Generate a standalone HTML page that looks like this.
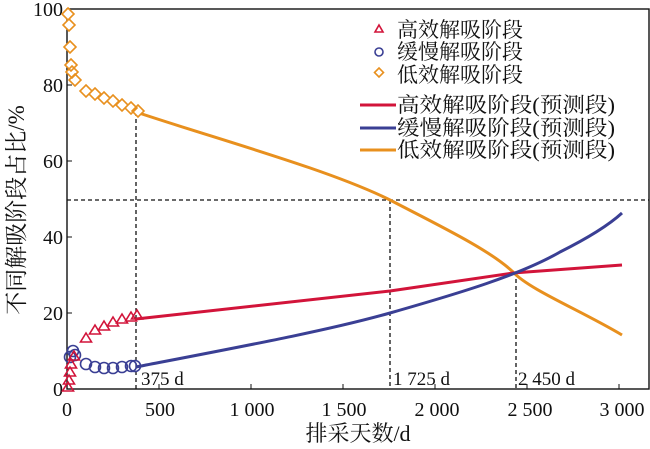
<!DOCTYPE html>
<html><head><meta charset="utf-8"><style>
body{margin:0;background:#fff}
svg text{font-family:"Liberation Serif","Noto Serif CJK SC",serif;fill:#111}
</style></head><body>
<svg width="650" height="444" viewBox="0 0 650 444" xmlns="http://www.w3.org/2000/svg">
<rect x="67" y="9" width="582" height="380" fill="none" stroke="#111" stroke-width="1.4"/>
<g stroke="#111" stroke-width="1">
<line x1="67" y1="313" x2="72" y2="313"/><line x1="67" y1="237" x2="72" y2="237"/><line x1="67" y1="161" x2="72" y2="161"/><line x1="67" y1="85" x2="72" y2="85"/>
<line x1="159" y1="389" x2="159" y2="384"/><line x1="251" y1="389" x2="251" y2="384"/><line x1="343" y1="389" x2="343" y2="384"/><line x1="435" y1="389" x2="435" y2="384"/><line x1="527" y1="389" x2="527" y2="384"/><line x1="619" y1="389" x2="619" y2="384"/>
</g>
<g font-size="20" text-anchor="end">
<text x="63" y="396">0</text><text x="63" y="320">20</text><text x="63" y="244">40</text><text x="63" y="168">60</text><text x="63" y="92">80</text><text x="63" y="16">100</text>
</g>
<g font-size="20" text-anchor="middle">
<text x="67" y="416">0</text><text x="160" y="416">500</text><text x="252" y="416">1 000</text><text x="344" y="416">1 500</text><text x="437" y="416">2 000</text><text x="530" y="416">2 500</text><text x="622" y="416">3 000</text>
</g>
<text x="358" y="441" font-size="22" text-anchor="middle">排采天数/d</text>
<text transform="translate(24,210) rotate(-90)" font-size="23" text-anchor="middle">不同解吸阶段占比/%</text>
<g stroke="#111" stroke-width="1.3" stroke-dasharray="4,3" fill="none">
<line x1="67" y1="200" x2="649" y2="200"/>
<line x1="136" y1="112" x2="136" y2="389"/>
<line x1="390" y1="200" x2="390" y2="389"/>
<line x1="516" y1="272" x2="516" y2="389"/>
</g>
<g font-size="19"><text x="141" y="385">375 d</text><text x="393" y="385">1 725 d</text><text x="518" y="385">2 450 d</text></g>
<g fill="none" stroke-width="3" stroke-linejoin="round">
<path stroke="#e8901e" d="M136,112 C220,140 330,170 390,200 C440,226 490,250 513,272 C530,290 580,310 622,335"/>
<path stroke="#d2143a" d="M136,319 L390,291 L513,273 L622,265"/>
<path stroke="#3a3f94" d="M136,367 C250,345 330,330 390,313 C460,293 520,275 560,252 C590,237 610,224 622,213"/>
</g>
<g fill="#fff" stroke="#e8901e" stroke-width="1.6">
<path d="M68,8 l6,6 -6,6 -6,-6z M69,19 l6,6 -6,6 -6,-6z M70,41 l6,6 -6,6 -6,-6z M71,59 l6,6 -6,6 -6,-6z M72,66 l6,6 -6,6 -6,-6z M75,74 l6,6 -6,6 -6,-6z M86,85 l6,6 -6,6 -6,-6z M95,88 l6,6 -6,6 -6,-6z M104,92 l6,6 -6,6 -6,-6z M113,95 l6,6 -6,6 -6,-6z M122,99 l6,6 -6,6 -6,-6z M131,102 l6,6 -6,6 -6,-6z M138,105 l6,6 -6,6 -6,-6z"/>
</g>
<g fill="none" stroke="#3a3f94" stroke-width="1.6">
<circle cx="70" cy="357" r="5.5"/><circle cx="73" cy="351" r="5.5"/><circle cx="75" cy="355" r="5.5"/><circle cx="86" cy="364" r="5.5"/><circle cx="95" cy="367" r="5.5"/><circle cx="104" cy="368" r="5.5"/><circle cx="113" cy="368" r="5.5"/><circle cx="122" cy="367" r="5.5"/><circle cx="131" cy="366" r="5.5"/><circle cx="135" cy="366" r="5.5"/>
</g>
<g fill="none" stroke="#d2143a" stroke-width="1.6">
<path d="M68,382 l5.5,9 -11,0z M69,375 l5.5,9 -11,0z M70,367 l5.5,9 -11,0z M71,359 l5.5,9 -11,0z M74,351 l5.5,9 -11,0z M86,333 l5.5,9 -11,0z M95,325 l5.5,9 -11,0z M104,321 l5.5,9 -11,0z M113,317 l5.5,9 -11,0z M122,314 l5.5,9 -11,0z M131,312 l5.5,9 -11,0z M137,310 l5.5,9 -11,0z"/>
</g>
<g font-size="21">
<path d="M379,25 l4,7 -8,0z" fill="none" stroke="#d2143a" stroke-width="1.6"/>
<circle cx="379" cy="52" r="4" fill="none" stroke="#3a3f94" stroke-width="1.6"/>
<path d="M379,68 l4.5,4.5 -4.5,4.5 -4.5,-4.5z" fill="none" stroke="#e8901e" stroke-width="1.6"/>
<line x1="360" y1="105" x2="396" y2="105" stroke="#d2143a" stroke-width="3"/>
<line x1="360" y1="128" x2="396" y2="128" stroke="#3a3f94" stroke-width="3"/>
<line x1="360" y1="150" x2="396" y2="150" stroke="#e8901e" stroke-width="3"/>
<text x="397" y="37">高效解吸阶段</text>
<text x="397" y="59">缓慢解吸阶段</text>
<text x="397" y="82">低效解吸阶段</text>
<text x="397" y="112" textLength="218" lengthAdjust="spacingAndGlyphs">高效解吸阶段(预测段)</text>
<text x="397" y="135" textLength="218" lengthAdjust="spacingAndGlyphs">缓慢解吸阶段(预测段)</text>
<text x="397" y="157" textLength="218" lengthAdjust="spacingAndGlyphs">低效解吸阶段(预测段)</text>
</g>
</svg>
</body></html>
